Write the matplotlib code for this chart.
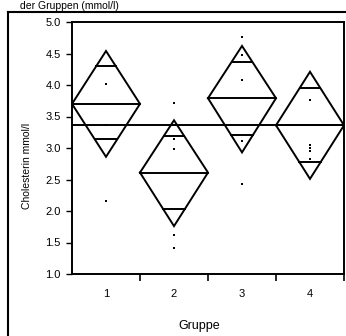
import matplotlib
matplotlib.use("Agg")
import matplotlib.pyplot as plt
import numpy as np
from matplotlib.lines import Line2D

plt.rcParams['font.family'] = ['Liberation Sans', 'DejaVu Sans']

# ---- data ----
groups = [1, 2, 3, 4]
means = [3.70, 2.61, 3.79, 3.36]
ci_upper = [4.54, 3.44, 4.62, 4.21]
ci_lower = [2.86, 1.76, 2.93, 2.51]
overlap_upper = [4.30, 3.19, 4.37, 3.96]
overlap_lower = [3.14, 2.03, 3.21, 2.78]
grand_mean = 3.36
points = {
    1: [4.02, 3.37, 2.16],
    2: [3.72, 3.15, 2.99, 1.62, 1.41],
    3: [4.76, 4.48, 4.08, 3.11, 2.43],
    4: [3.76, 3.05, 3.00, 2.95, 2.83],
}
y_ticks = [1.0, 1.5, 2.0, 2.5, 3.0, 3.5, 4.0, 4.5, 5.0]
x_label = "Gruppe"
y_label = "Cholesterin mmol/l"
title_text = "der Gruppen (mmol/l)"

W, H = 346, 336
fig = plt.figure(figsize=(W / 100, H / 100), dpi=100)
ax = fig.add_axes([72 / W, 1 - 274 / H, (344 - 72) / W, (274 - 22) / H])

half_w = 0.5
lw = 1.4
for g, m, up, lo, ou, ol in zip(groups, means, ci_upper, ci_lower, overlap_upper, overlap_lower):
    # diamond
    xs = [g - half_w, g, g + half_w, g, g - half_w]
    ys = [m, up, m, lo, m]
    ax.plot(xs, ys, color='black', lw=lw, solid_joinstyle='miter')
    # mean line
    ax.plot([g - half_w, g + half_w], [m, m], color='black', lw=lw)
    # overlap marks
    for yv, tip in ((ou, up), (ol, lo)):
        frac = (yv - tip) / (m - tip)
        hw = half_w * frac
        ax.plot([g - hw, g + hw], [yv, yv], color='black', lw=lw)
    # data points
    pts = points[g]
    ax.plot([g] * len(pts), pts, linestyle='none', marker='s', ms=1.8,
            color='black', markeredgewidth=0)

ax.axhline(grand_mean, color='black', lw=lw)

ax.set_xlim(0.5, 4.5)
ax.set_ylim(1.0, 5.0)
ax.set_yticks(y_ticks)
ax.set_yticklabels([f"{v:.1f}" for v in y_ticks])
ax.set_xticks([1.5, 2.5, 3.5, 4.5])
ax.set_xticklabels([])
ax.set_xticks(groups, minor=True)
ax.set_xticklabels([str(g) for g in groups], minor=True)
ax.tick_params(axis='x', which='major', direction='out', length=5, width=1.2)
ax.tick_params(axis='x', which='minor', length=0, pad=11, labelsize=8)
ax.tick_params(axis='y', direction='out', length=4, width=1.0, pad=4, labelsize=8)
for s in ax.spines.values():
    s.set_linewidth(1.4)

fig.text(199 / W, 1 - 326 / H, x_label, ha='center', va='center', fontsize=9)
fig.text(27 / W, 1 - 166 / H, y_label, ha='center', va='center', rotation=90, fontsize=7.5)

# outer frame of the scanned figure
fig.add_artist(Line2D([8 / W, 8 / W], [0, 1 - 12 / H], transform=fig.transFigure, color='black', lw=1.5))
fig.add_artist(Line2D([8 / W, 1], [1 - 12 / H, 1 - 12 / H], transform=fig.transFigure, color='black', lw=1.5))

# heading at the very top
fig.text(20 / W, 1 - 1 / H, title_text, ha='left', va='top', fontsize=7.5)

fig.savefig("out.png", dpi=100)
